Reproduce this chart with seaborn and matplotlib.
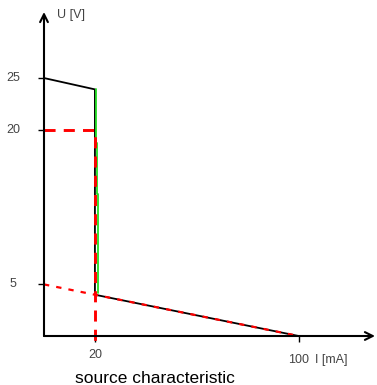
import numpy as np
import pandas as pd
import seaborn as sns
import matplotlib.pyplot as plt

sns.set_style("white")
plt.rcParams['font.family'] = ['Liberation Sans', 'DejaVu Sans']

# Data (I in mA, U in V)
black_I = [0, 20, 20, 100]
black_U = [25, 23.9, 4.0, 0]
green_I = [20.4, 20.4, 20.7, 20.7, 21.05, 21.05, 21.4, 21.4]
green_U = [23.9, 18.7, 18.7, 13.8, 13.8, 9.0, 9.0, 4.2]
ref_I = [0, 20, 20]
ref_U = [20, 20, -0.6]
load_I = [0, 100]
load_U = [5, 0]
x_ticks = [20, 100]
y_ticks = [5, 20, 25]

fig = plt.figure(figsize=(3.77, 3.85), dpi=100)
ax = fig.add_axes([44 / 377, 49 / 385, 331 / 377, 324 / 385])

sns.lineplot(x=black_I, y=black_U, sort=False, estimator=None, color='black', lw=1.3, ax=ax)
sns.lineplot(x=green_I, y=green_U, sort=False, estimator=None, color='#22dd22', lw=1.3, ax=ax)
sns.lineplot(x=ref_I, y=ref_U, sort=False, estimator=None, color='red', lw=2.1,
             ax=ax, clip_on=False).lines[-1].set_dashes([3.8, 2.8])
sns.lineplot(x=load_I, y=load_U, sort=False, estimator=None, color='red', lw=1.6,
             ax=ax).lines[-1].set_dashes([2.4, 3.2])

ax.set_xlim(0, 130)
ax.set_ylim(0, 31.4)
for s in ax.spines.values():
    s.set_visible(False)

# axes with arrow heads
ax.annotate('', xy=(1, 0), xytext=(0, 0), xycoords='axes fraction',
            arrowprops=dict(arrowstyle='->', lw=1.5, color='black', shrinkA=0, shrinkB=0, mutation_scale=14))
ax.annotate('', xy=(0, 1), xytext=(0, 0), xycoords='axes fraction',
            arrowprops=dict(arrowstyle='->', lw=1.5, color='black', shrinkA=0, shrinkB=0, mutation_scale=14))

ax.set_xticks(x_ticks)
ax.set_yticks(y_ticks)
ax.set_xticklabels([])
ax.set_yticklabels([])
ax.tick_params(axis='both', direction='out', length=4.5, width=1, color='black',
               bottom=True, left=True)

tc = '#444444'
ytr = ax.get_yaxis_transform()
for v in y_ticks:
    ax.text(-0.094, v, str(v), transform=ytr, ha='center', va='center', fontsize=9, color=tc)
xtr = ax.get_xaxis_transform()
ax.text(20, -0.058, '20', transform=xtr, ha='center', va='center', fontsize=9, color=tc)
ax.text(100, -0.074, '100', transform=xtr, ha='center', va='center', fontsize=9, color=tc)
ax.text(0.82, -0.074, 'I [mA]', transform=ax.transAxes, ha='left', va='center', fontsize=9, color=tc)
ax.text(0.04, 0.99, 'U [V]', transform=ax.transAxes, ha='left', va='center', fontsize=9, color=tc)
ax.text(0.095, -0.13, 'source characteristic', transform=ax.transAxes, ha='left', va='center',
        fontsize=12.5, color='black')

fig.savefig('out.png', dpi=100)
